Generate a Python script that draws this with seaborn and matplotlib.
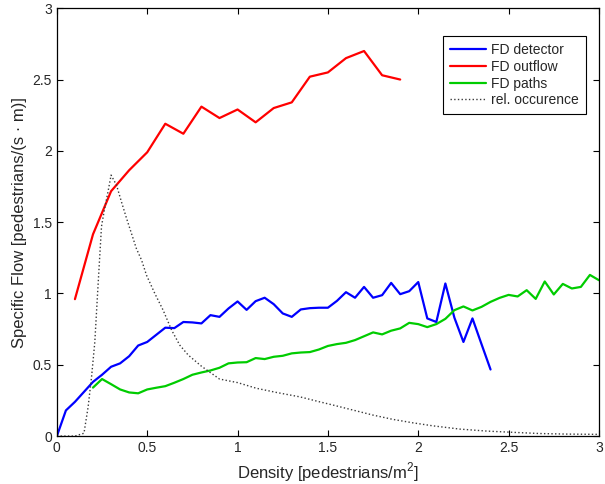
import matplotlib
matplotlib.use("Agg")
import matplotlib.pyplot as plt
import seaborn as sns
import pandas as pd

# fundamental diagram data
det_density = [0.0, 0.05, 0.1, 0.15, 0.2, 0.25, 0.3, 0.35, 0.4, 0.45, 0.5, 0.55, 0.6, 0.65,
               0.7, 0.75, 0.8, 0.85, 0.9, 0.95, 1.0, 1.05, 1.1, 1.15, 1.2, 1.25, 1.3, 1.35,
               1.4, 1.45, 1.5, 1.55, 1.6, 1.65, 1.7, 1.75, 1.8, 1.85, 1.9, 1.95, 2.0, 2.05,
               2.1, 2.15, 2.2, 2.25, 2.3, 2.35, 2.4]
det_flow = [0.0, 0.18, 0.24, 0.31, 0.38, 0.43, 0.486, 0.51, 0.56, 0.635, 0.66, 0.71, 0.76, 0.757,
            0.80, 0.797, 0.79, 0.848, 0.836, 0.895, 0.944, 0.885, 0.946, 0.97, 0.925, 0.86, 0.836, 0.888,
            0.897, 0.90, 0.90, 0.948, 1.009, 0.97, 1.046, 0.97, 0.988, 1.074, 0.995, 1.016, 1.08, 0.825,
            0.80, 1.07, 0.83, 0.66, 0.825, 0.645, 0.467]

out_density = [0.1, 0.2, 0.3, 0.4, 0.5, 0.6, 0.7, 0.8, 0.9, 1.0, 1.1, 1.2, 1.3, 1.4, 1.5,
               1.6, 1.7, 1.8, 1.9]
out_flow = [0.96, 1.415, 1.717, 1.864, 1.99, 2.19, 2.12, 2.31, 2.23, 2.29, 2.20, 2.30, 2.34,
            2.52, 2.55, 2.65, 2.70, 2.53, 2.50]

path_density = [0.2, 0.25, 0.3, 0.35, 0.4, 0.45, 0.5, 0.55, 0.6, 0.65, 0.7, 0.75, 0.8, 0.85,
                0.9, 0.95, 1.0, 1.05, 1.1, 1.15, 1.2, 1.25, 1.3, 1.35, 1.4, 1.45, 1.5, 1.55,
                1.6, 1.65, 1.7, 1.75, 1.8, 1.85, 1.9, 1.95, 2.0, 2.05, 2.1, 2.15, 2.2, 2.25,
                2.3, 2.35, 2.4, 2.45, 2.5, 2.55, 2.6, 2.65, 2.7, 2.75, 2.8, 2.85, 2.9, 2.95, 3.0]
path_flow = [0.34, 0.40, 0.364, 0.327, 0.306, 0.30, 0.327, 0.339, 0.35, 0.374, 0.40, 0.43, 0.446, 0.46,
             0.479, 0.51, 0.516, 0.518, 0.547, 0.54, 0.556, 0.563, 0.58, 0.586, 0.589, 0.607, 0.632, 0.645,
             0.654, 0.673, 0.70, 0.727, 0.713, 0.739, 0.755, 0.794, 0.785, 0.764, 0.785, 0.822, 0.883, 0.909,
             0.881, 0.906, 0.941, 0.969, 0.99, 0.979, 1.023, 0.962, 1.084, 0.993, 1.067, 1.035, 1.046, 1.13, 1.093]

occ_density = [0.0, 0.05, 0.1, 0.15, 0.173, 0.192, 0.21, 0.223, 0.234, 0.247, 0.262, 0.284, 0.3,
               0.33, 0.358, 0.386, 0.413, 0.44, 0.469, 0.496, 0.542, 0.588, 0.635, 0.68, 0.727,
               0.8, 0.9, 1.0, 1.105, 1.215, 1.345, 1.455, 1.53, 1.64, 1.75, 1.86, 1.97, 2.08,
               2.23, 2.38, 2.53, 2.67, 2.82, 3.0]
occ_value = [0.0, 0.0, 0.0, 0.02, 0.205, 0.416, 0.66, 0.95, 1.19, 1.47, 1.58, 1.72, 1.83,
             1.76, 1.64, 1.525, 1.42, 1.315, 1.233, 1.128, 1.0, 0.883, 0.743, 0.638, 0.568,
             0.49, 0.40, 0.375, 0.335, 0.306, 0.275, 0.24, 0.217, 0.182, 0.147, 0.117, 0.093, 0.072,
             0.049, 0.035, 0.026, 0.018, 0.014, 0.012]

tick_vals = [0, 0.5, 1, 1.5, 2, 2.5, 3]
tick_text = ['0', '0.5', '1', '1.5', '2', '2.5', '3']

sns.set_style("ticks")
plt.rcParams['font.family'] = ['Liberation Sans', 'DejaVu Sans']
plt.rcParams['mathtext.fontset'] = 'custom'
plt.rcParams['mathtext.rm'] = 'Liberation Sans'

fig = plt.figure(figsize=(6.05, 4.84), dpi=100)
ax = fig.add_axes([0.094, 0.099, 0.896, 0.884])

series = [
    (det_density, det_flow, 'FD detector', '#0000ff', '-', 1.6),
    (out_density, out_flow, 'FD outflow', '#ff0000', '-', 1.6),
    (path_density, path_flow, 'FD paths', '#00cc00', '-', 1.6),
    (occ_density, occ_value, 'rel. occurence', '#3a3a3a', ':', 1.0),
]
for xs, ys, name, col, ls, lw in series:
    df = pd.DataFrame({'density': xs, 'flow': ys})
    sns.lineplot(data=df, x='density', y='flow', ax=ax, color=col, linestyle=ls,
                 linewidth=lw, label=name, sort=False, estimator=None)

ax.set_xlim(0, 3)
ax.set_ylim(0, 3)
ax.set_xticks(tick_vals)
ax.set_xticklabels(tick_text)
ax.set_yticks(tick_vals)
ax.set_yticklabels(tick_text)
ax.tick_params(direction='in', top=True, right=True, length=4, width=0.8,
               labelsize=10, pad=3.5, color='black')
for sp in ax.spines.values():
    sp.set_visible(True)
    sp.set_color('black')
    sp.set_linewidth(0.9)

ax.set_xlabel('Density [pedestrians/m$^2$]', fontsize=12, labelpad=4)
ax.set_ylabel('Specific Flow [pedestrians/(s \u00b7 m)]', fontsize=12, labelpad=4)

leg = ax.legend(loc='upper right', bbox_to_anchor=(0.976, 0.935), fontsize=10,
                frameon=True, fancybox=False, framealpha=1, edgecolor='black',
                handlelength=2.6, handletextpad=0.4, labelspacing=0.2,
                borderpad=0.5, borderaxespad=0)
leg.get_frame().set_linewidth(0.8)

fig.savefig('out.png', dpi=100)
